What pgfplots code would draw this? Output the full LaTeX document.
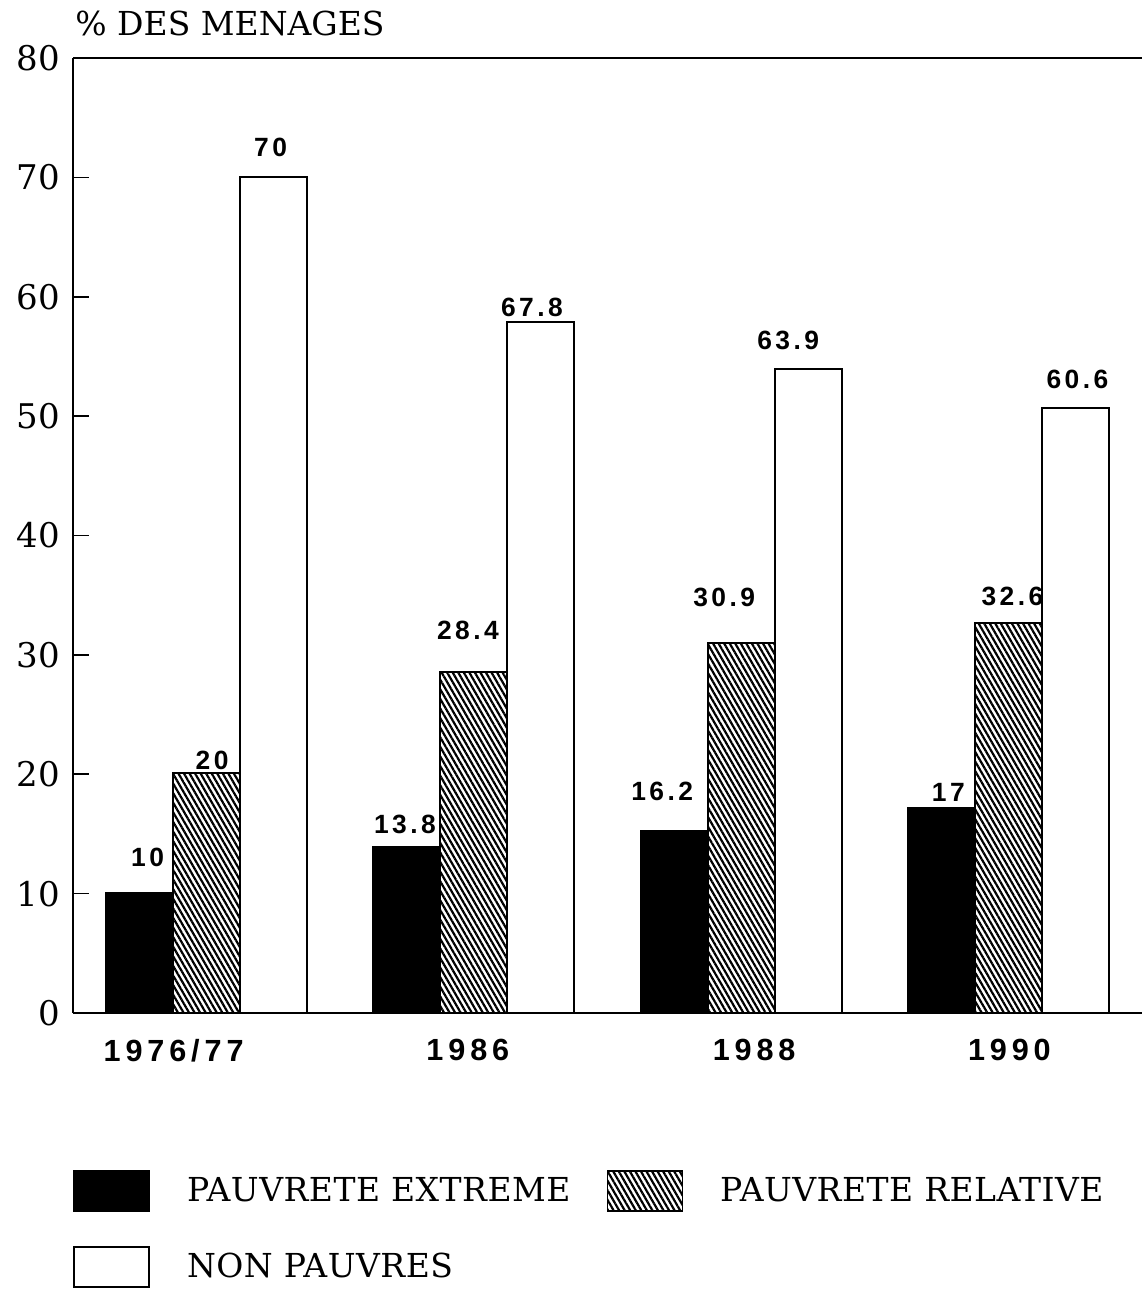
\documentclass[border=0pt]{standalone}
\usepackage{fontspec}
\usepackage{pgfplots}
\usepackage{pgfplotstable}
\pgfplotsset{compat=1.18}
\usetikzlibrary{patterns.meta}
\setmainfont{DejaVu Serif}
\newfontfamily\legfont{DejaVu Serif}[LetterSpace=1.5]
\newfontfamily\labfont{Liberation Sans}[LetterSpace=13]
\newfontfamily\tickfont{Liberation Sans}[LetterSpace=16]
\newcommand\sh[2]{\makebox[0pt][l]{\hspace*{#1}\makebox[0pt]{#2}}}

\pgfplotstableread{
x y lab dx dy
0 10.05 10 4 12.5
1 13.9 13.8 -1 6
2 15.25 16.2 -6 14.5
3 17.2 17 3.5 2.5
}\tabA
\pgfplotstableread{
x y lab dx dy
0 20.1 20 2.75 1
1 28.6 28.4 -3 15.5
2 31.0 30.9 -8.5 17.5
3 32.7 32.6 2 8
}\tabB
\pgfplotstableread{
x y lab dx dy
0 70.0 70 -1.5 10
1 57.9 67.8 -4.5 2
2 53.95 63.9 -10 9
3 50.7 60.6 1 9
}\tabC

\begin{document}
\begin{tikzpicture}
\path[use as bounding box] (0,0) rectangle (571pt,-645pt);
\node[anchor=base west, inner sep=0pt, font=\fontsize{16.5}{20}\selectfont] at (37.5pt,-17.5pt) {\% DES MENAGES};
\begin{axis}[
  at={(36.5pt,-506.5pt)}, anchor=south west,
  scale only axis, width=534.5pt, height=477.5pt,
  xmin=-0.5, xmax=3.5, ymin=0, ymax=80,
  axis x line*=bottom, axis y line*=left,
  axis line style={line width=1pt, -},
  ybar=0pt, bar width=33.5pt,
  every axis plot/.append style={line width=0.9pt},
  xtick={0,1,2,3},
  xticklabels={\sh{-16.5pt}{1976/77},\sh{-3pt}{1986},\sh{6.5pt}{1988},\sh{0.5pt}{1990}},
  xtick style={draw=none},
  ytick={0,10,...,80},
  ytick style={line width=0.8pt, black},
  tick align=inside, major tick length=8pt,
  /pgf/number format/assume math mode=true,
  yticklabel style={font=\fontsize{17}{19}\selectfont, xshift=-3pt},
  xticklabel style={font=\fontsize{15.3}{18}\selectfont\tickfont\bfseries, yshift=-9.5pt},
  point meta=explicit symbolic,
  nodes near coords,
  visualization depends on={\thisrow{dx} \as \labdx},
  visualization depends on={\thisrow{dy} \as \labdy},
  nodes near coords style={font=\fontsize{13.2}{15}\selectfont\labfont\bfseries, anchor=south, inner sep=0pt, xshift=\labdx*1pt, yshift=\labdy*1pt},
  clip=false,
  legend columns=2, legend cell align=left,
  legend style={draw=none, at={(0,0)}, anchor=north west, yshift=-78.5pt, inner sep=0pt, row sep=17pt,
    font=\fontsize{16.5}{19}\selectfont\legfont,
    /tikz/every odd column/.append style={column sep=16.5pt},
    /tikz/every even column/.append style={column sep=16pt}},
  legend image code/.code={\draw[#1, line width=0.8pt] (0pt,-10pt) rectangle (37.5pt,10pt);},
]
\addplot[fill=black, draw=black] table[x=x,y=y,meta=lab]{\tabA};
\addlegendentry{PAUVRETE EXTREME}
\addplot[draw=black, pattern={Lines[angle=-60,distance=2.4pt,line width=1.1pt]}] table[x=x,y=y,meta=lab]{\tabB};
\addlegendentry{PAUVRETE RELATIVE}
\addplot[draw=black, fill=white] table[x=x,y=y,meta=lab]{\tabC};
\addlegendentry{NON PAUVRES}
\draw[line width=1pt] (rel axis cs:0,1) -- (rel axis cs:1,1);
\end{axis}
\end{tikzpicture}
\end{document}
